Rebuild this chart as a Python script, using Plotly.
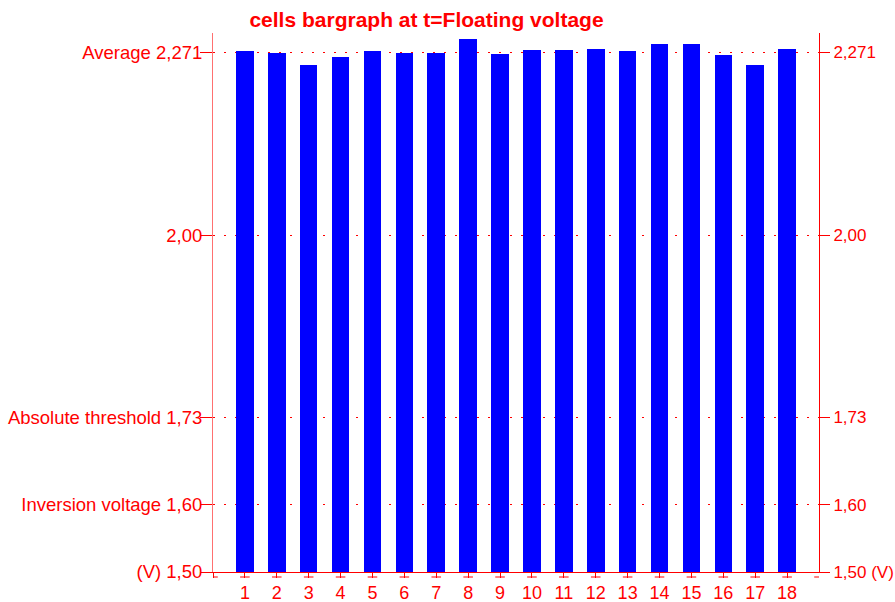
import plotly.graph_objects as go

# ---- data ----
cells = list(range(1, 19))
voltages = [2.273, 2.271, 2.253, 2.264, 2.273, 2.270, 2.271, 2.291, 2.269,
            2.275, 2.275, 2.277, 2.274, 2.284, 2.283, 2.268, 2.253, 2.276]
y_tickvals = [1.50, 1.60, 1.73, 2.00, 2.271]
left_labels = ["(V) 1,50", "Inversion voltage 1,60", "Absolute threshold 1,73",
               "2,00", "Average 2,271"]
right_labels = ["1,50 (V)", "1,60", "1,73", "2,00", "2,271"]
x_tickvals = [0] + cells
x_ticktext = [""] + [str(c) for c in cells]
title_text = "cells bargraph at t=Floating voltage"

RED = "#ff0000"
FONT = "Liberation Sans, Arial, sans-serif"
Y_RANGE = [1.5, 2.3]
X_RANGE = [0, 19]

fig = go.Figure()
fig.add_trace(go.Bar(x=cells, y=voltages, width=0.55,
                     marker=dict(color="#0000ff", line=dict(width=0)),
                     showlegend=False, hoverinfo="x+y"))
# invisible trace to anchor the right axis
fig.add_trace(go.Scatter(x=cells, y=voltages, yaxis="y2", mode="markers",
                         marker=dict(opacity=0), showlegend=False, hoverinfo="skip"))

fig.update_layout(
    width=895, height=602,
    margin=dict(l=213, r=76, t=33, b=30, autoexpand=False),
    paper_bgcolor="white", plot_bgcolor="white",
    font=dict(family=FONT, color=RED, size=17),
    title=dict(text="<b>" + title_text + "</b>", x=426.5 / 895, xanchor="center",
               xref="container", y=1 - 20 / 602, yanchor="middle", yref="container",
               font=dict(family=FONT, size=21, color=RED)),
    bargap=0,
    xaxis=dict(range=X_RANGE, tickmode="array", tickvals=x_tickvals, ticktext=x_ticktext,
               showgrid=False, zeroline=False, showline=True, linecolor=RED, linewidth=1,
               ticks="outside", ticklen=5, tickcolor=RED, tickwidth=1, automargin=False,
               ticklabelstandoff=-1,
               tickfont=dict(size=18, color=RED)),
    yaxis=dict(range=Y_RANGE, tickmode="array", tickvals=y_tickvals, ticktext=left_labels,
               showgrid=True, gridcolor=RED, griddash="2px,9px", gridwidth=1,
               zeroline=False, showline=True, linecolor="#ff7070", linewidth=1,
               ticks="outside", ticklen=12, tickcolor=RED, tickwidth=1, automargin=False,
               ticklabelstandoff=-6,
               tickfont=dict(size=18.5, color=RED)),
    yaxis2=dict(range=Y_RANGE, overlaying="y", side="right", tickmode="array",
                tickvals=y_tickvals, ticktext=right_labels, showgrid=False,
                zeroline=False, showline=True, linecolor=RED, linewidth=1,
                ticks="outside", ticklen=10, tickcolor=RED, tickwidth=1, automargin=False,
                tickfont=dict(size=17, color=RED)),
)

# small horizontal dashes below the x axis, centred at every integer position
plot_h = 602 - 33 - 30
dash_y = -5 / plot_h
shapes = []
for i in range(X_RANGE[0], X_RANGE[1] + 1):
    a = max(i - 0.15, X_RANGE[0]) / X_RANGE[1]
    b = min(i + 0.15, X_RANGE[1]) / X_RANGE[1]
    shapes.append(dict(type="line", xref="paper", yref="paper", x0=a, x1=b,
                       y0=dash_y, y1=dash_y, line=dict(color=RED, width=1)))
fig.update_layout(shapes=shapes)

fig.write_html("out.html", config={"displayModeBar": False},
               post_script="document.body.style.margin='0';document.body.style.padding='0';")
